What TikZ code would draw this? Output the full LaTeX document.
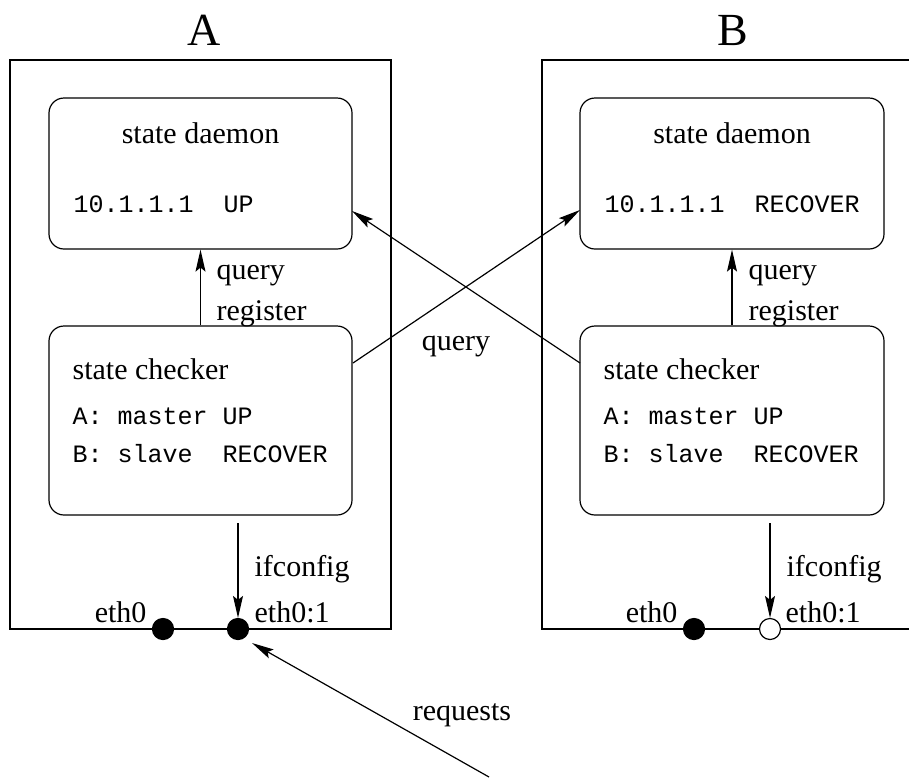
\documentclass[tikz,border=0pt]{standalone}
\usepackage{fontspec}
\setmainfont{Liberation Serif}
\setmonofont{Liberation Mono}
\usetikzlibrary{arrows.meta}
\begin{document}
\begin{tikzpicture}[x=1pt,y=-1pt,
  line width=1.2pt,
  lbl/.style={inner sep=0pt,font=\fontsize{30}{36}\selectfont},
  mono/.style={inner sep=0pt,font=\fontsize{25}{30}\selectfont\ttfamily},
  title/.style={inner sep=0pt,font=\fontsize{46}{50}\selectfont},
  procbox/.style={draw,rounded corners=15pt,inner sep=0pt,minimum width=303pt},
  hostbox/.style={draw,inner sep=0pt},
  arr/.style={-{Stealth[length=22pt,width=10pt,inset=4pt]}},
  fulldot/.style={circle,fill=black,draw,inner sep=0pt,minimum size=21pt},
  opendot/.style={circle,fill=white,draw,inner sep=0pt,minimum size=21pt}]
\useasboundingbox (0,0) rectangle (909,777);

% titles
\node[title,anchor=base] (tA) at (204,45) {A};
\node[title,anchor=base] (tB) at (733,45) {B};

% host frames
\node[hostbox,minimum width=381pt,minimum height=569pt] (hostA) at (200.5,344.5) {};
\draw (909,60) -- (542,60) -- (542,629) -- (909,629);
\coordinate (hostB) at (542,60);

% host A processes
\node[procbox,minimum height=151pt] (daemonA) at (200.5,173.5) {};
\node[procbox,minimum height=189pt] (checkerA) at (200.5,420.5) {};
\node[lbl,anchor=base] (sdA) at (200.5,143) {state daemon};
\node[mono,anchor=base west] (ipA) at (73,212) {10.1.1.1\ \ UP};
\node[lbl,anchor=base west] (scA) at (72,379) {state checker};
\node[mono,anchor=base west] (m1A) at (72,424) {A:\ master UP};
\node[mono,anchor=base west] (m2A) at (72,462) {B:\ slave\ \ RECOVER};

% host B processes
\node[procbox,minimum height=151pt,minimum width=304pt] (daemonB) at (732,173.5) {};
\node[procbox,minimum height=189pt,minimum width=304pt] (checkerB) at (732,420.5) {};
\node[lbl,anchor=base] (sdB) at (732,143) {state daemon};
\node[mono,anchor=base west] (ipB) at (604,212) {10.1.1.1\ \ RECOVER};
\node[lbl,anchor=base west] (scB) at (603,379) {state checker};
\node[mono,anchor=base west] (m1B) at (603,424) {A:\ master UP};
\node[mono,anchor=base west] (m2B) at (603,462) {B:\ slave\ \ RECOVER};

% query/register arrows
\draw[arr] (checkerA.north) -- (daemonA.south);
\node[lbl,anchor=base west] (qA) at (216,279) {query};
\node[lbl,anchor=base west] (rA) at (216,320) {register};
\draw[arr] (checkerB.north) -- (daemonB.south);
\node[lbl,anchor=base west] (qB) at (748,279) {query};
\node[lbl,anchor=base west] (rB) at (748,320) {register};

% interfaces
\node[fulldot] (eA0) at (163,629) {};
\node[fulldot] (eA1) at (238,629) {};
\node[fulldot] (eB0) at (694,629) {};
\node[opendot] (eB1) at (770,629) {};
\node[lbl,anchor=base east] (leA0) at (147,622) {eth0};
\node[lbl,anchor=base west] (leA1) at (254,622) {eth0:1};
\node[lbl,anchor=base east] (leB0) at (678,622) {eth0};
\node[lbl,anchor=base west] (leB1) at (785,622) {eth0:1};

% ifconfig arrows
\coordinate (ifA) at (238,523);
\coordinate (ifB) at (770,523);
\draw[arr] (ifA) -- (eA1.north);
\draw[arr] (ifB) -- (eB1.north);
\node[lbl,anchor=base west] (lifA) at (254,576) {ifconfig};
\node[lbl,anchor=base west] (lifB) at (786,576) {ifconfig};

% cross queries
\coordinate (cAout) at (353,363);
\coordinate (dBin) at (580,210);
\coordinate (cBout) at (580,363);
\coordinate (dAin) at (352,211);
\draw[arr] (cAout) -- (dBin);
\draw[arr] (cBout) -- (dAin);
\node[lbl,anchor=base] (lq) at (456,350) {query};

% requests
\coordinate (reqS) at (489,777);
\coordinate (reqT) at (252,643);
\draw[arr] (reqS) -- (reqT);
\node[lbl,anchor=base] (lreq) at (462,720) {requests};
\end{tikzpicture}
\end{document}
